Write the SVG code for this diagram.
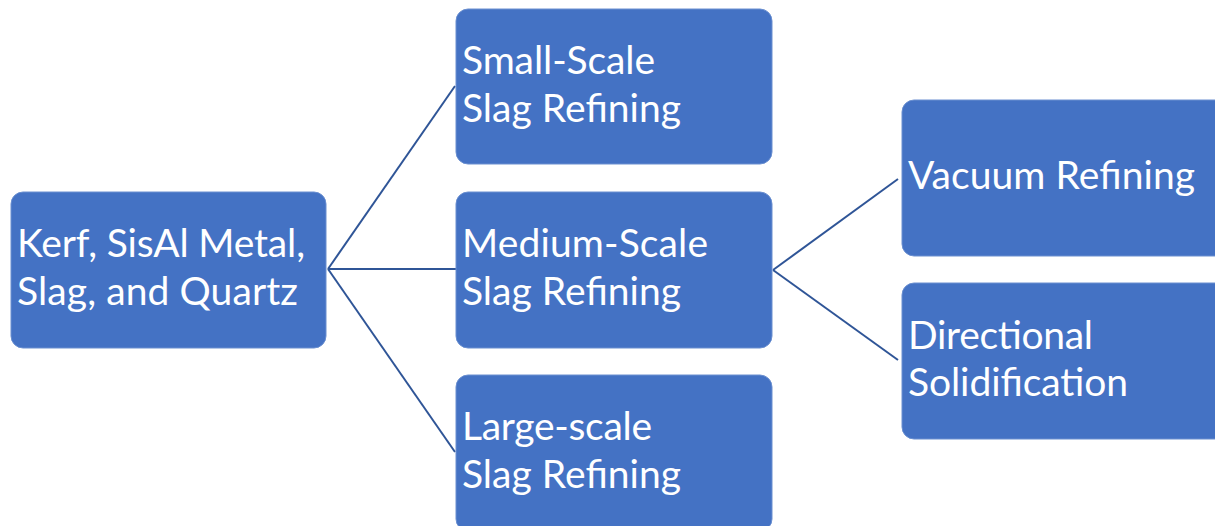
<svg xmlns="http://www.w3.org/2000/svg" width="1215" height="526" viewBox="0 0 1215 526">
<style>
.box{fill:#4472C4;stroke:#6A8FD0;stroke-width:1}
.t{font-family:Lato,"Open Sans","Liberation Sans",sans-serif;font-size:39px;fill:#FFFFFF}
.c{stroke:#2F5597;stroke-width:2;fill:none}
</style>
<rect width="1215" height="526" fill="#FFFFFF"/>
<g id="connectors">
<line class="c" x1="328" y1="269" x2="455" y2="86"/>
<line class="c" x1="328" y1="269" x2="456" y2="269"/>
<line class="c" x1="328" y1="269" x2="455" y2="452"/>
<line class="c" x1="773" y1="270" x2="898" y2="179"/>
<line class="c" x1="773" y1="270" x2="898" y2="360"/>
</g>
<g id="root">
<rect class="box" x="11" y="192" width="315" height="156" rx="12"/>
<text class="t"><tspan x="17" y="257" textLength="288" lengthAdjust="spacing">Kerf, SisAl Metal,</tspan><tspan x="17" y="305" textLength="281" lengthAdjust="spacing">Slag, and Quartz</tspan></text>
</g>
<g id="small">
<rect class="box" x="456" y="9" width="316" height="155" rx="12"/>
<text class="t"><tspan x="462" y="74" textLength="193" lengthAdjust="spacing">Small-Scale</tspan><tspan x="462" y="122" textLength="219" lengthAdjust="spacing">Slag Refining</tspan></text>
</g>
<g id="medium">
<rect class="box" x="456" y="192" width="316" height="156" rx="12"/>
<text class="t"><tspan x="462" y="257" textLength="246" lengthAdjust="spacing">Medium-Scale</tspan><tspan x="462" y="305" textLength="219" lengthAdjust="spacing">Slag Refining</tspan></text>
</g>
<g id="large">
<rect class="box" x="456" y="375" width="316" height="156" rx="12"/>
<text class="t"><tspan x="462" y="440" textLength="190" lengthAdjust="spacing">Large-scale</tspan><tspan x="462" y="488" textLength="219" lengthAdjust="spacing">Slag Refining</tspan></text>
</g>
<g id="vacuum">
<rect class="box" x="902" y="100" width="325" height="156" rx="12"/>
<text class="t" x="908" y="189" textLength="287" lengthAdjust="spacing">Vacuum Refining</text>
</g>
<g id="directional">
<rect class="box" x="902" y="283" width="325" height="156" rx="12"/>
<text class="t"><tspan x="908" y="349" textLength="185" lengthAdjust="spacing">Directional</tspan><tspan x="908" y="396" textLength="220" lengthAdjust="spacing">Solidification</tspan></text>
</g>
</svg>
